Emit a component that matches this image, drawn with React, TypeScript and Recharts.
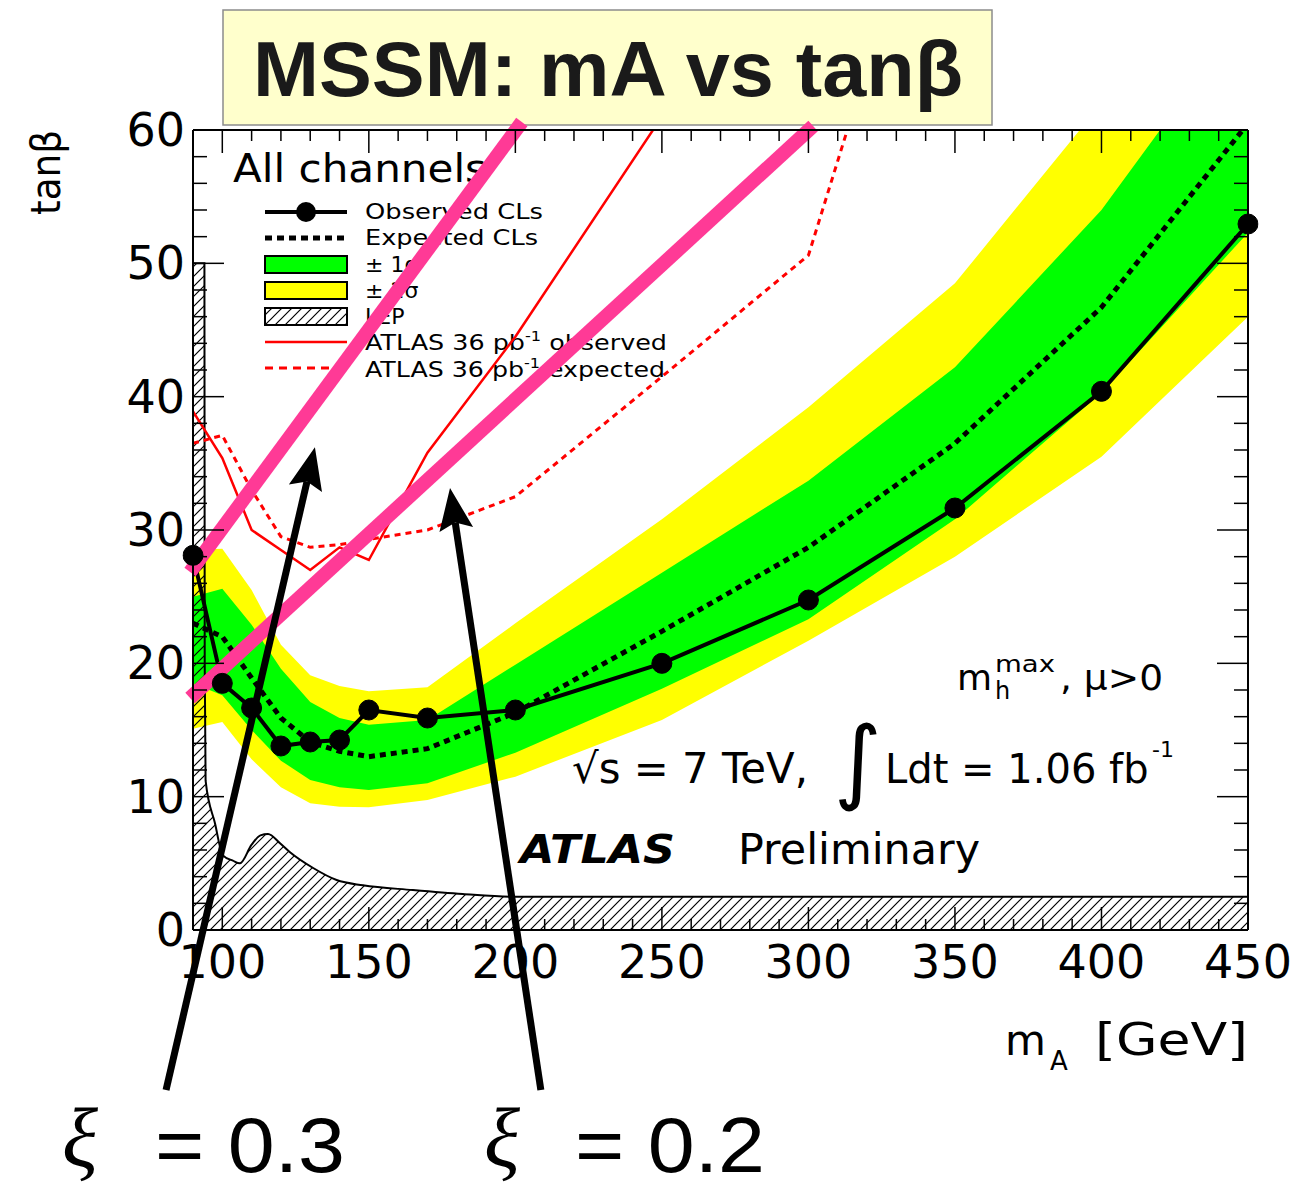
import React from 'react';
import { ComposedChart, Area, Line, XAxis, YAxis, ReferenceLine } from 'recharts';

// ---------------- data ----------------
const massPoints = [90, 100, 110, 120, 130, 140, 150, 170, 200, 250, 300, 350, 400, 450];
const observedCLs = [28.1, 18.5, 16.65, 13.8, 14.1, 14.25, 16.5, 15.9, 16.5, 20.0, 24.75, 31.65, 40.4, 52.95];
const expectedCLs = [23.0, 22.0, 18.9, 15.9, 14.1, 13.4, 13.0, 13.6, 16.3, 22.4, 28.7, 36.5, 46.7, 60.5];
const sigma1Low = [18.5, 17.6, 15.0, 12.7, 11.25, 10.7, 10.5, 11.0, 13.3, 18.1, 23.3, 30.8, 40.3, 52.3];
const sigma1High = [25.0, 25.6, 22.9, 19.6, 17.1, 15.9, 15.4, 15.75, 19.9, 26.8, 33.7, 42.2, 54.0, 69.0];
const sigma2Low = [15.1, 15.6, 12.8, 10.7, 9.5, 9.25, 9.2, 9.75, 11.5, 15.75, 21.7, 28.0, 35.5, 46.0];
const sigma2High = [28.5, 28.6, 25.5, 21.4, 19.1, 18.3, 17.9, 18.2, 23.0, 30.8, 39.2, 48.5, 62.0, 75.0];

const lepMass = [90, 93.9, 94.0, 94.3, 97.5, 100.2, 103.6, 106, 110, 113, 115.6, 119.7, 123, 131, 139, 148, 165, 182, 199, 450];
const lepTanb = [50, 50, 20, 11.2, 8.0, 5.6, 5.2, 5.0, 6.4, 7.1, 7.2, 6.5, 5.85, 4.65, 3.75, 3.35, 3.0, 2.7, 2.5, 2.5];

const atlas36ObsMass = [90, 100, 110, 120, 130, 140, 150, 170, 200, 250];
const atlas36Obs = [38.9, 35.4, 30.0, 28.5, 27.0, 28.7, 27.75, 35.8, 44.5, 61.0];
const atlas36ExpMass = [90, 100, 110, 120, 130, 140, 150, 170, 200, 250, 300, 350];
const atlas36Exp = [36.5, 37.1, 33.0, 29.5, 28.7, 28.9, 29.3, 30.0, 32.5, 41.5, 50.6, 86.0];

const xMajorTicks = [100, 150, 200, 250, 300, 350, 400, 450];
const xMinorTicks = [110, 120, 130, 140, 160, 170, 180, 190, 210, 220, 230, 240, 260, 270, 280, 290, 310, 320, 330, 340, 360, 370, 380, 390, 410, 420, 430, 440];
const yMajorTicks = [0, 10, 20, 30, 40, 50, 60];
const yMinorTicks = [2, 4, 6, 8, 12, 14, 16, 18, 22, 24, 26, 28, 32, 34, 36, 38, 42, 44, 46, 48, 52, 54, 56, 58];

// hand-drawn annotations (data coordinates)
const pinkLine1 = [{ x: 89.0, y: 26.85 }, { x: 202.2, y: 60.6 }];
const pinkLine2 = [{ x: 89.0, y: 17.4 }, { x: 301.6, y: 60.3 }];
const arrowXi03 = [{ x: 80.8, y: -12.0 }, { x: 131.6, y: 36.2 }];
const arrowXi02 = [{ x: 208.7, y: -12.0 }, { x: 177.7, y: 33.15 }];

const legendLabels = ['Observed CLs', 'Expected CLs', '± 1σ', '± 2σ', 'LEP', 'ATLAS 36 pb', 'ATLAS 36 pb'];

// ---------------- tables ----------------
const bandData = massPoints.map((m, i) => ({
  x: m,
  yellow: [sigma2Low[i], sigma2High[i]],
  green: [sigma1Low[i], sigma1High[i]],
  obs: observedCLs[i],
  exp: expectedCLs[i],
}));
const lepData = lepMass.map((m, i) => ({ x: m, lep: lepTanb[i] }));
const atlasObsData = atlas36ObsMass.map((m, i) => ({ x: m, v: atlas36Obs[i] }));
const atlasExpData = atlas36ExpMass.map((m, i) => ({ x: m, v: atlas36Exp[i] }));

const SANS = "'DejaVu Sans', sans-serif";
const PINK = '#FF3A96';

const XTick = (p: any) => (
  <text x={p.x} y={930 + 48} textAnchor="middle" fontFamily={SANS} fontSize={46} fill="#000">
    {p.payload.value}
  </text>
);
const YTick = (p: any) => (
  <text x={185} y={p.y + 16} textAnchor="end" fontFamily={SANS} fontSize={46} fill="#000">
    {p.payload.value}
  </text>
);
const NoTick = () => <g />;

const ArrowShape = (props: any) => {
  const { x1, y1, x2, y2 } = props;
  const dx = x2 - x1;
  const dy = y2 - y1;
  const len = Math.hypot(dx, dy) || 1;
  const ux = dx / len;
  const uy = dy / len;
  const px = -uy;
  const py = ux;
  const headLen = 42;
  const headW = 17;
  const notch = 7;
  const bx = x2 - ux * headLen;
  const by = y2 - uy * headLen;
  const nx = x2 - ux * (headLen - notch);
  const ny = y2 - uy * (headLen - notch);
  return (
    <g>
      <line x1={x1} y1={y1} x2={nx} y2={ny} stroke="#000" strokeWidth={7} />
      <polygon
        points={`${x2},${y2} ${bx + px * headW},${by + py * headW} ${nx},${ny} ${bx - px * headW},${by - py * headW}`}
        fill="#000"
      />
    </g>
  );
};

const PlotTexts = () => (
  <g fontFamily={SANS} fill="#000">
    <text x={233} y={182} fontSize={39} textLength={254} lengthAdjust="spacingAndGlyphs">All channels</text>

    {/* legend swatches */}
    <line x1={265} y1={212} x2={347} y2={212} stroke="#000" strokeWidth={4} />
    <circle cx={306} cy={212} r={10} fill="#000" />
    <line x1={265} y1={238} x2={347} y2={238} stroke="#000" strokeWidth={5} strokeDasharray="7 5" />
    <rect x={265} y={256} width={82} height={17} fill="#00FF00" stroke="#000" strokeWidth={2} />
    <rect x={265} y={282} width={82} height={17} fill="#FFFF00" stroke="#000" strokeWidth={2} />
    <rect x={265} y={308} width={82} height={17} fill="url(#lepHatch)" stroke="#000" strokeWidth={2} />
    <line x1={265} y1={342} x2={347} y2={342} stroke="#FF0000" strokeWidth={2.5} />
    <line x1={265} y1={368} x2={347} y2={368} stroke="#FF0000" strokeWidth={3} strokeDasharray="8 6" />

    <text x={365} y={219} fontSize={22} textLength={178} lengthAdjust="spacingAndGlyphs">{legendLabels[0]}</text>
    <text x={365} y={245} fontSize={22} textLength={173} lengthAdjust="spacingAndGlyphs">{legendLabels[1]}</text>
    <text x={365} y={272} fontSize={22}>{legendLabels[2]}</text>
    <text x={365} y={298} fontSize={22}>{legendLabels[3]}</text>
    <text x={365} y={324} fontSize={22}>{legendLabels[4]}</text>
    <text x={365} y={350} fontSize={22} textLength={302} lengthAdjust="spacingAndGlyphs">
      {legendLabels[5]}
      <tspan dy={-9} fontSize={14}>-1</tspan>
      <tspan dy={9} fontSize={22}> observed</tspan>
    </text>
    <text x={365} y={377} fontSize={22} textLength={300} lengthAdjust="spacingAndGlyphs">
      {legendLabels[6]}
      <tspan dy={-9} fontSize={14}>-1</tspan>
      <tspan dy={9} fontSize={22}> expected</tspan>
    </text>

    {/* scenario text */}
    <text x={957} y={690} fontSize={36}>m</text>
    <text x={995} y={672} fontSize={23} textLength={60} lengthAdjust="spacingAndGlyphs">max</text>
    <text x={995} y={699} fontSize={24}>h</text>
    <text x={1060} y={690} fontSize={36} textLength={103} lengthAdjust="spacingAndGlyphs">, μ&gt;0</text>

    <text x={572} y={783} fontSize={42} textLength={236} lengthAdjust="spacingAndGlyphs">√s = 7 TeV,</text>
    <text x={834} y={792} fontSize={92}>∫</text>
    <text x={885} y={783} fontSize={40}>Ldt = 1.06 fb</text>
    <text x={1152} y={757} fontSize={22}>-1</text>

    <text x={520} y={863} fontSize={39} fontWeight="bold" fontStyle="italic" textLength={155} lengthAdjust="spacingAndGlyphs">ATLAS</text>
    <text x={738} y={864} fontSize={42} textLength={242} lengthAdjust="spacingAndGlyphs">Preliminary</text>

    {/* axis titles */}
    <text x={1005} y={1055} fontSize={42}>m</text>
    <text x={1050} y={1070} fontSize={26}>A</text>
    <text x={1095} y={1055} fontSize={45} textLength={153} lengthAdjust="spacingAndGlyphs">[GeV]</text>
    <text x={0} y={0} fontSize={40} textLength={85} lengthAdjust="spacingAndGlyphs" transform="translate(60,215) rotate(-90)">tanβ</text>
  </g>
);

const Overlay = () => (
  <svg width={1304} height={1189} style={{ position: 'absolute', left: 0, top: 0 }}>
    <rect x={223} y={10} width={769} height={115} fill="#FFFFCC" stroke="#8c8c8c" strokeWidth={1.5} />
    <text x={253} y={96} fontFamily="'Liberation Sans', Arial, sans-serif" fontWeight="bold" fontSize={78}
      fill="#1a1a1a" textLength={710} lengthAdjust="spacingAndGlyphs">MSSM: mA vs tanβ</text>

    <text x={62} y={1166} fontFamily="'Liberation Serif', serif" fontStyle="italic" fontSize={84} fill="#000">ξ</text>
    <text x={155} y={1172} fontFamily="'Liberation Sans', Arial, sans-serif" fontSize={78} fill="#000"
      textLength={190} lengthAdjust="spacingAndGlyphs">= 0.3</text>
    <text x={484} y={1166} fontFamily="'Liberation Serif', serif" fontStyle="italic" fontSize={84} fill="#000">ξ</text>
    <text x={575} y={1172} fontFamily="'Liberation Sans', Arial, sans-serif" fontSize={78} fill="#000"
      textLength={190} lengthAdjust="spacingAndGlyphs">= 0.2</text>
  </svg>
);

export default function App() {
  const axisStroke = { stroke: '#000', strokeWidth: 2 };
  const tickStroke = { stroke: '#000', strokeWidth: 1.5 };
  return (
    <div style={{ position: 'absolute', left: 0, top: 0, width: 1304, height: 1189, background: '#fff' }}>
      <Overlay />
      <div style={{ position: 'absolute', left: 0, top: 0 }}>
        <ComposedChart width={1304} height={1189} margin={{ top: 128, right: 54, bottom: 257, left: 191 }}>
          <defs>
            <pattern id="lepHatch" patternUnits="userSpaceOnUse" width={10} height={10}>
              <path d="M-2.5,2.5 L2.5,-2.5 M0,10 L10,0 M7.5,12.5 L12.5,7.5" stroke="#000" strokeWidth={1.2} />
            </pattern>
          </defs>

          <XAxis type="number" dataKey="x" domain={[90, 450]} ticks={xMajorTicks} interval={0} height={1}
            tickSize={-23} tickMargin={23} tick={<XTick />} axisLine={axisStroke} tickLine={tickStroke} allowDataOverflow />
          <XAxis xAxisId="xMinor" type="number" dataKey="x" domain={[90, 450]} ticks={xMinorTicks} interval={0} height={1}
            tickSize={-12} tick={<NoTick />} axisLine={false} tickLine={tickStroke} allowDataOverflow />
          <XAxis xAxisId="xTop" orientation="top" type="number" dataKey="x" domain={[90, 450]} ticks={xMajorTicks} interval={0} height={1}
            tickSize={-23} tick={<NoTick />} axisLine={axisStroke} tickLine={tickStroke} allowDataOverflow />
          <XAxis xAxisId="xTopMinor" orientation="top" type="number" dataKey="x" domain={[90, 450]} ticks={xMinorTicks} interval={0} height={1}
            tickSize={-12} tick={<NoTick />} axisLine={false} tickLine={tickStroke} allowDataOverflow />

          <YAxis type="number" domain={[0, 60]} ticks={yMajorTicks} interval={0} width={1}
            tickSize={-31} tickMargin={31} tick={<YTick />} axisLine={axisStroke} tickLine={tickStroke} allowDataOverflow />
          <YAxis yAxisId="yMinor" type="number" domain={[0, 60]} ticks={yMinorTicks} interval={0} width={1}
            tickSize={-15} tick={<NoTick />} axisLine={false} tickLine={tickStroke} allowDataOverflow />
          <YAxis yAxisId="yRight" orientation="right" type="number" domain={[0, 60]} ticks={yMajorTicks} interval={0} width={1}
            tickSize={-31} tick={<NoTick />} axisLine={axisStroke} tickLine={tickStroke} allowDataOverflow />
          <YAxis yAxisId="yRightMinor" orientation="right" type="number" domain={[0, 60]} ticks={yMinorTicks} interval={0} width={1}
            tickSize={-15} tick={<NoTick />} axisLine={false} tickLine={tickStroke} allowDataOverflow />

          <Area data={bandData} dataKey="yellow" type="linear" fill="#FFFF00" fillOpacity={1} stroke="none"
            isAnimationActive={false} activeDot={false} name="± 2σ" />
          <Area data={bandData} dataKey="green" type="linear" fill="#00FF00" fillOpacity={1} stroke="none"
            isAnimationActive={false} activeDot={false} name="± 1σ" />
          <Area data={lepData} dataKey="lep" type="monotone" fill="url(#lepHatch)" fillOpacity={1} stroke="#000" strokeWidth={2}
            isAnimationActive={false} activeDot={false} name="LEP" />

          <Line data={atlasObsData} dataKey="v" type="linear" stroke="#FF0000" strokeWidth={2.5} dot={false}
            isAnimationActive={false} activeDot={false} name="ATLAS 36 pb-1 observed" />
          <Line data={atlasExpData} dataKey="v" type="linear" stroke="#FF0000" strokeWidth={3} strokeDasharray="6 5" dot={false}
            isAnimationActive={false} activeDot={false} name="ATLAS 36 pb-1 expected" />
          <Line data={bandData} dataKey="exp" type="linear" stroke="#000" strokeWidth={5} strokeDasharray="6 5" dot={false}
            isAnimationActive={false} activeDot={false} name="Expected CLs" />
          <Line data={bandData} dataKey="obs" type="linear" stroke="#000" strokeWidth={4}
            dot={{ r: 10, fill: '#000', stroke: '#000', strokeWidth: 1, clipDot: false }}
            isAnimationActive={false} activeDot={false} name="Observed CLs" />

          <PlotTexts />

          <ReferenceLine segment={pinkLine1} stroke={PINK} strokeWidth={14} ifOverflow="visible" />
          <ReferenceLine segment={pinkLine2} stroke={PINK} strokeWidth={14} ifOverflow="visible" />
          <ReferenceLine segment={arrowXi03} ifOverflow="visible" shape={ArrowShape} />
          <ReferenceLine segment={arrowXi02} ifOverflow="visible" shape={ArrowShape} />
        </ComposedChart>
      </div>
    </div>
  );
}
